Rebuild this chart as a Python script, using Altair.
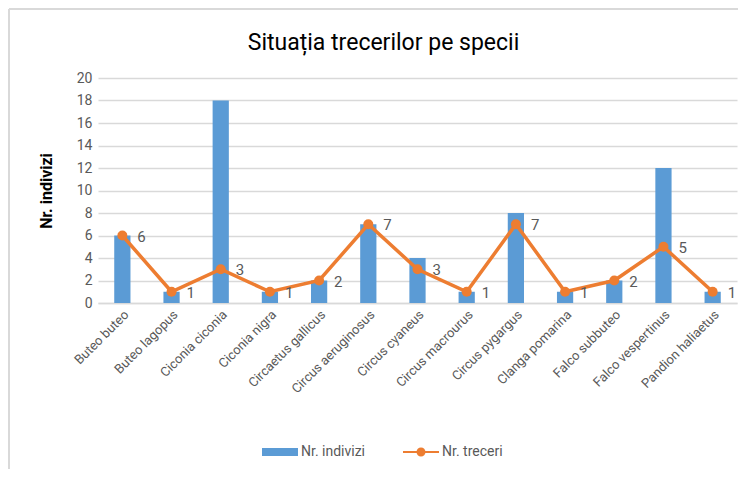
import altair as alt
import pandas as pd

species = ["Buteo buteo", "Buteo lagopus", "Ciconia ciconia", "Ciconia nigra",
           "Circaetus gallicus", "Circus aeruginosus", "Circus cyaneus",
           "Circus macrourus", "Circus pygargus", "Clanga pomarina",
           "Falco subbuteo", "Falco vespertinus", "Pandion haliaetus"]
indivizi = [6, 1, 18, 1, 2, 7, 4, 1, 8, 1, 2, 12, 1]
treceri = [6, 1, 3, 1, 2, 7, 3, 1, 7, 1, 2, 5, 1]
series_names = ["Nr. indivizi", "Nr. treceri"]
y_ticks = list(range(0, 21, 2))

BLUE = "#5B9BD5"
ORANGE = "#ED7D31"
GRAY = "#595959"
FONT = "Roboto, sans-serif"

df_bar = pd.DataFrame({"sp": species, "v": indivizi, "s": series_names[0]})
df_line = pd.DataFrame({"sp": species, "v": treceri, "s": series_names[1]})

W, H = 639, 225

xenc = alt.X("sp:N", sort=species, title=None,
             scale=alt.Scale(paddingInner=0.67, paddingOuter=0.33),
             axis=alt.Axis(labelAngle=-45, labelAlign="right", labelBaseline="top",
                           labelPadding=5, ticks=False, domain=True,
                           domainColor="#d9d9d9", domainWidth=1.5,
                           labelFont=FONT, labelFontSize=13, labelColor=GRAY,
                           grid=False))
yenc = alt.Y("v:Q", scale=alt.Scale(domain=[0, 20], nice=False), title="Nr. indivizi",
             axis=alt.Axis(values=y_ticks, ticks=False, domain=False, grid=True,
                           gridColor="#d9d9d9", gridWidth=1.5, labelOverlap=False,
                           labelFont=FONT, labelFontSize=14, labelColor=GRAY,
                           labelPadding=6,
                           titleFont=FONT, titleFontSize=16, titleFontWeight="bold",
                           titleColor="#000000", titlePadding=22))

leg_common = dict(orient="none", direction="horizontal", symbolSize=1296,
                  symbolStrokeWidth=0, labelFont=FONT, labelFontSize=14,
                  labelColor=GRAY, labelOffset=3)

bars = alt.Chart(df_bar).mark_bar().encode(
    x=xenc, y=yenc,
    fill=alt.Fill("s:N", scale=alt.Scale(domain=[series_names[0]], range=[BLUE]),
                  title=None,
                  legend=alt.Legend(legendX=164, legendY=356,
                                    symbolType="M-1,-0.22H1V0.22H-1Z", **leg_common)),
)

line = alt.Chart(df_line).mark_line(color=ORANGE, strokeWidth=3.5).encode(x=xenc, y=yenc)
pts = alt.Chart(df_line).mark_point(filled=True, size=100, opacity=1).encode(
    x=xenc, y=yenc,
    color=alt.Color("s:N", scale=alt.Scale(domain=[series_names[1]], range=[ORANGE]),
                    title=None,
                    legend=alt.Legend(legendX=305, legendY=356,
                                      symbolType="M-1,-0.05H1V0.05H-1Z M0.25,0 A0.25,0.25 0 1,1 -0.25,0 A0.25,0.25 0 1,1 0.25,0Z",
                                      **leg_common)))
labels = alt.Chart(df_line).mark_text(align="left", baseline="middle", dx=15, dy=1,
                                      font=FONT, fontSize=15, color=GRAY).encode(
    x=xenc, y=yenc, text="v:Q")

frame_top = alt.Chart(df_bar).mark_rule(color="#d9d9d9", strokeWidth=2).encode(
    x=alt.value(-89), x2=alt.value(W + 20), y=alt.value(-69))
frame_left = alt.Chart(df_bar).mark_rule(color="#d9d9d9", strokeWidth=2).encode(
    x=alt.value(-89), y=alt.value(-69), y2=alt.value(391))

chart = alt.layer(bars, line, pts, labels, frame_top, frame_left).resolve_legend(
    fill="independent", color="independent").properties(
    width=W, height=H,
    autosize=alt.AutoSizeParams(type="none"),
    padding={"left": 90, "top": 70, "right": 1, "bottom": 166},
    title=alt.TitleParams("Situația trecerilor pe specii", font=FONT, fontSize=23,
                          fontWeight="normal", color="#000000", anchor="middle",
                          dx=-34, offset=-47),
).configure_view(stroke=None)

chart.save("out.html", embed_options={"renderer": "svg", "actions": False})
